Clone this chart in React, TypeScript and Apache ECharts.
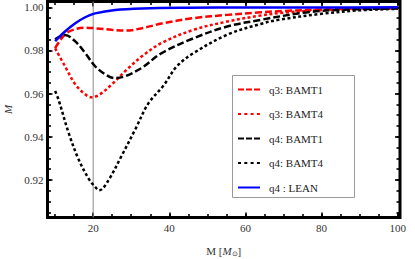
import React, { useEffect, useRef } from 'react';
import * as echarts from 'echarts';

// ---- data ----
const seriesNames = ['q3: BAMT1', 'q3: BAMT4', 'q4: BAMT1', 'q4: BAMT4', 'q4 : LEAN'];

const q3Bamt1X = [10, 12.6, 15.3, 17.9, 20.5, 24.9, 28.4, 32.8, 38, 46.4, 55.2, 64, 70, 80, 90, 100];
const q3Bamt1Y = [0.9811, 0.9875, 0.9899, 0.9906, 0.9903, 0.9896, 0.9892, 0.9903, 0.9925, 0.995, 0.9965, 0.9977, 0.9983, 0.999, 0.9994, 0.9996];

const q3Bamt4X = [10, 12.6, 15.3, 17.9, 19.6, 21.8, 24.9, 28.4, 32.8, 38, 46.4, 55.2, 64, 70, 80, 90, 100];
const q3Bamt4Y = [0.981, 0.9727, 0.9643, 0.9597, 0.9583, 0.9597, 0.9643, 0.9704, 0.9773, 0.9835, 0.9896, 0.9934, 0.9962, 0.9975, 0.9987, 0.9993, 0.9996];

const q4Bamt1X = [10, 12.6, 15.3, 17.9, 20.5, 23.2, 25.6, 28.4, 32.8, 38, 46.4, 55.2, 64, 75.3, 84.2, 100];
const q4Bamt1Y = [0.9852, 0.9872, 0.9842, 0.9788, 0.9727, 0.9689, 0.9672, 0.9681, 0.972, 0.9788, 0.9857, 0.9911, 0.9942, 0.9975, 0.9988, 0.9995];

const q4Bamt4X = [10, 10.9, 13.5, 16.1, 18.8, 20.5, 21.6, 24, 27.5, 31.1, 34.5, 38.5, 42, 46.4, 55.2, 64, 68.7, 80, 90, 100];
const q4Bamt4Y = [0.9612, 0.9572, 0.9421, 0.9298, 0.9206, 0.9168, 0.9152, 0.9198, 0.9313, 0.9436, 0.9555, 0.9638, 0.9727, 0.9788, 0.9873, 0.9923, 0.9942, 0.997, 0.9986, 0.9993];

const q4LeanX = [10, 12.6, 15.3, 17.9, 20.5, 25.8, 33, 45, 60, 80, 100];
const q4LeanY = [0.9843, 0.9888, 0.9926, 0.9954, 0.9972, 0.9988, 0.9995, 0.9998, 0.9999, 0.99995, 1.0];

const xTickLabels = [20, 40, 60, 80, 100];
const yTickLabels = [0.92, 0.94, 0.96, 0.98, 1.0];
const markerX = 20;

const X_MIN = 8;
const X_MAX = 100.6;
const Y_MIN = 0.9026;
const Y_MAX = 1.0027;

const pairs = (xs: number[], ys: number[]) => xs.map((x, i) => [x, ys[i]]);

export default function App() {
  const ref = useRef<HTMLDivElement>(null);

  useEffect(() => {
    document.body.style.margin = '0';
    const chart = echarts.init(ref.current!, null, { renderer: 'svg' });
    const font = 'Liberation Serif';

    const isIn = (v: number, list: number[]) => list.some((t) => Math.abs(t - v) < 1e-6);

    const mkX = (pos: 'bottom' | 'top', major: boolean) => ({
      type: 'value',
      position: pos,
      min: X_MIN,
      max: X_MAX,
      splitNumber: major ? 5 : 20,
      minInterval: major ? 20 : 5,
      maxInterval: major ? 20 : 5,
      axisLine: { show: false },
      splitLine: { show: false },
      axisTick: { show: true, inside: true, length: major ? 5 : 3.5, lineStyle: { color: '#000', width: 1.6 } },
      axisLabel: {
        show: pos === 'bottom' && major,
        margin: 5,
        fontFamily: font,
        fontSize: 11,
        color: '#333',
        showMinLabel: false,
        showMaxLabel: false,
        formatter: (v: number) => (isIn(v, xTickLabels) ? String(Math.round(v)) : ''),
      },
      ...(pos === 'bottom' && major
        ? {
            name: '{a|M [}{i|M}{s|⊙}{a|]}',
            nameLocation: 'middle',
            nameGap: 27,
            nameTextStyle: {
              rich: {
                a: { fontFamily: font, fontSize: 11, color: '#333' },
                i: { fontFamily: font, fontSize: 11, fontStyle: 'italic', color: '#333' },
                s: { fontFamily: font, fontSize: 7, color: '#333', verticalAlign: 'bottom', padding: [6, 0, 0, 0] },
              },
            },
          }
        : {}),
    });

    const mkY = (pos: 'left' | 'right', major: boolean) => ({
      type: 'value',
      position: pos,
      min: Y_MIN,
      max: Y_MAX,
      splitNumber: major ? 5 : 20,
      minInterval: major ? 0.02 : 0.005,
      maxInterval: major ? 0.02 : 0.005,
      axisLine: { show: false },
      splitLine: { show: false },
      axisTick: { show: true, inside: true, length: major ? 5 : 3.5, lineStyle: { color: '#000', width: 1.6 } },
      axisLabel: {
        show: pos === 'left' && major,
        margin: 4,
        fontFamily: font,
        fontSize: 11,
        color: '#333',
        showMinLabel: false,
        showMaxLabel: false,
        formatter: (v: number) => (isIn(v, yTickLabels) ? v.toFixed(2) : ''),
      },
      ...(pos === 'left' && major
        ? {
            name: 'M',
            nameLocation: 'middle',
            nameGap: 23,
            nameTextStyle: { fontFamily: font, fontSize: 11, fontStyle: 'italic', color: '#333' },
          }
        : {}),
    });

    const lineSeries = (name: string, xs: number[], ys: number[], color: string, dash: any) => ({
      name,
      type: 'line',
      xAxisIndex: 0,
      yAxisIndex: 0,
      data: pairs(xs, ys),
      symbol: 'none',
      showSymbol: false,
      smooth: 0.35,
      z: 3,
      lineStyle: { color, width: 2.5, type: dash, cap: 'butt' },
      itemStyle: { color },
    });

    const legendDash = [[6, 2], [3, 3.3], [6, 2], [3, 3.3], 'solid'];

    chart.setOption({
      animation: false,
      backgroundColor: '#fff',
      grid: {
        left: 47.5,
        right: 15,
        top: 1.5,
        bottom: 41.5,
        show: true,
        borderColor: '#000',
        borderWidth: 3,
        backgroundColor: 'transparent',
        containLabel: false,
        outerBoundsMode: 'none',
      },
      xAxis: [mkX('bottom', true), mkX('bottom', false), mkX('top', true), mkX('top', false)],
      yAxis: [mkY('left', true), mkY('left', false), mkY('right', true), mkY('right', false)],
      graphic: [
        {
          type: 'rect',
          z: 10,
          shape: { x: 232.5, y: 75.5, width: 122, height: 122 },
          style: { fill: '#fff', stroke: '#999', lineWidth: 1 },
        },
      ],
      legend: {
        data: seriesNames.map((n, i) => ({ name: n, lineStyle: { type: legendDash[i] } })),
        orient: 'vertical',
        left: 237,
        top: 84,
        padding: 0,
        itemWidth: 22,
        itemHeight: 10,
        itemGap: 13.5,
        z: 20,
        itemStyle: { opacity: 0, color: 'rgba(0,0,0,0)', borderColor: 'rgba(0,0,0,0)', borderWidth: 0 },
        textStyle: { fontFamily: font, fontSize: 11, color: '#222', padding: [0, 0, 0, 4] },
      },
      series: [
        {
          name: 'marker',
          type: 'line',
          data: [
            [markerX, Y_MIN],
            [markerX, Y_MAX],
          ],
          symbol: 'none',
          z: 1,
          lineStyle: { color: '#8c8c8c', width: 1 },
          silent: true,
        },
        lineSeries(seriesNames[0], q3Bamt1X, q3Bamt1Y, '#ff0000', [7, 3]),
        lineSeries(seriesNames[1], q3Bamt4X, q3Bamt4Y, '#ff0000', [3, 2.5]),
        lineSeries(seriesNames[2], q4Bamt1X, q4Bamt1Y, '#000000', [7, 3]),
        lineSeries(seriesNames[3], q4Bamt4X, q4Bamt4Y, '#000000', [3, 2.5]),
        lineSeries(seriesNames[4], q4LeanX, q4LeanY, '#0000ff', 'solid'),
      ],
    });

    return () => chart.dispose();
  }, []);

  return <div ref={ref} style={{ width: 415, height: 259 }} />;
}
